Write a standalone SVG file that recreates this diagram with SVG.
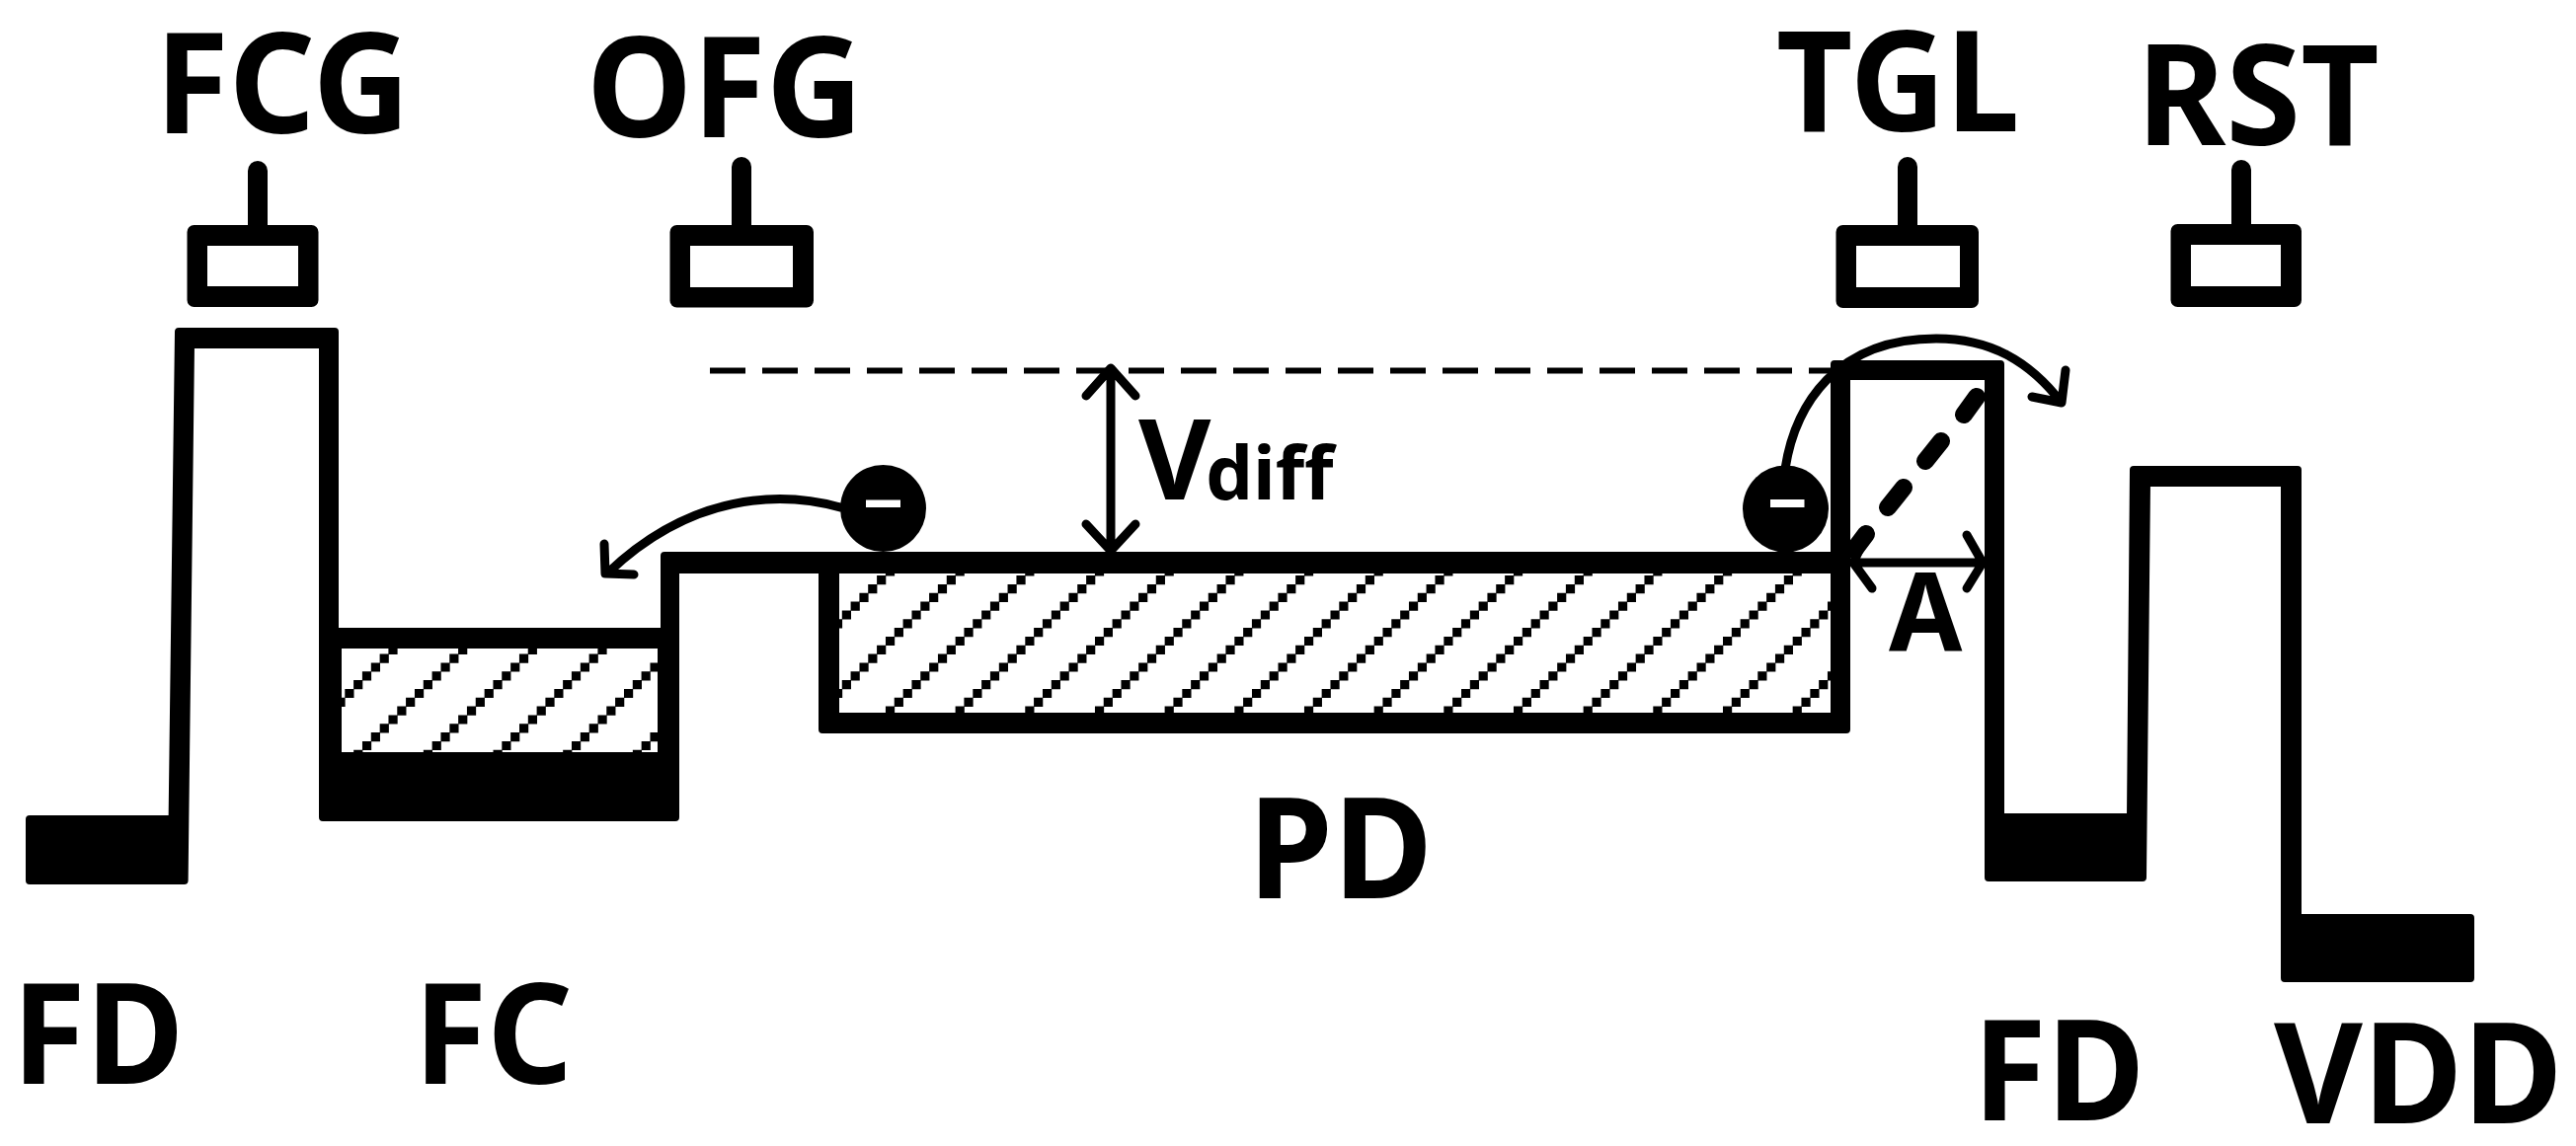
<svg xmlns="http://www.w3.org/2000/svg" width="2609" height="1161" viewBox="0 0 2609 1161">
<style>
text{font-family:"Noto Sans","Open Sans","Liberation Sans",sans-serif;font-weight:700;fill:#000}
.l{font-size:142px}
.band{fill:#000;stroke:#000;stroke-width:8;stroke-linejoin:round}
.stem{stroke:#000;stroke-width:20;stroke-linecap:round}
.hole{fill:#fff}
.thin{fill:none;stroke:#000;stroke-width:9;stroke-linecap:round;stroke-linejoin:round}
.dash{fill:none;stroke:#000;stroke-width:6;stroke-dasharray:36 17}
.thick{fill:none;stroke:#000;stroke-width:18;stroke-linecap:round}
</style>
<defs>
<path id="d" d="M-106 106h9.200v9.200h-9.200zM-97.100 97.100h9.200v9.200h-9.200zM-88.300 88.300h9.200v9.200h-9.200zM-79.500 79.500h9.200v9.200h-9.200zM-70.600 70.600h9.200v9.200h-9.200zM-61.800 61.800h9.200v9.200h-9.200zM-53 53h9.200v9.200h-9.200zM-44.200 44.200h9.200v9.200h-9.200zM-35.300 35.300h9.200v9.200h-9.200zM-26.500 26.500h9.200v9.200h-9.200zM-17.700 17.700h9.200v9.200h-9.200zM-8.800 8.800h9.200v9.200h-9.200zM0 0h9.200v9.200h-9.200zM8.800 -8.800h9.200v9.200h-9.200zM17.700 -17.700h9.200v9.200h-9.200zM26.500 -26.500h9.200v9.200h-9.200zM35.300 -35.300h9.200v9.200h-9.200zM44.200 -44.200h9.200v9.200h-9.200zM53 -53h9.200v9.200h-9.200zM61.800 -61.800h9.200v9.200h-9.200zM70.600 -70.600h9.200v9.200h-9.200zM79.500 -79.500h9.200v9.200h-9.200zM88.300 -88.300h9.200v9.200h-9.200z"/>
<clipPath id="fc"><rect x="346" y="657" width="320" height="105"/></clipPath>
<clipPath id="pd"><rect x="850" y="581" width="1004" height="141"/></clipPath>
</defs>
<rect width="2609" height="1161" fill="#fff"/>
<g id="band">
<path class="band" d="M30 830H174.6L181 336H339V640H673V563H1858V369H2026V828H2158L2161 476H2327V930H2502V991H2314V489H2174L2170 889H2014V381H1870V739H833V577H684V828H327V349H193L186.6 892H30Z"/>
<rect class="hole" x="346" y="657" width="320" height="105"/>
<rect class="hole" x="850" y="581" width="1004" height="141"/>
<g clip-path="url(#fc)">
<use href="#d" x="384.600" y="662.600"/><use href="#d" x="455.270" y="662.600"/><use href="#d" x="525.940" y="662.600"/><use href="#d" x="596.610" y="662.600"/><use href="#d" x="667.280" y="662.600"/><use href="#d" x="737.950" y="662.600"/>
</g>
<g clip-path="url(#pd)">
<use href="#d" x="808.600" y="662.600"/><use href="#d" x="879.270" y="662.600"/><use href="#d" x="949.940" y="662.600"/><use href="#d" x="1020.610" y="662.600"/><use href="#d" x="1091.280" y="662.600"/><use href="#d" x="1161.950" y="662.600"/><use href="#d" x="1232.620" y="662.600"/><use href="#d" x="1303.290" y="662.600"/><use href="#d" x="1373.960" y="662.600"/><use href="#d" x="1444.630" y="662.600"/><use href="#d" x="1515.300" y="662.600"/><use href="#d" x="1585.970" y="662.600"/><use href="#d" x="1656.640" y="662.600"/><use href="#d" x="1727.310" y="662.600"/><use href="#d" x="1797.980" y="662.600"/><use href="#d" x="1868.650" y="662.600"/><use href="#d" x="1939.320" y="662.600"/>
</g>
</g>
<g id="gate-fcg">
<line class="stem" x1="261" y1="173" x2="261" y2="235"/>
<rect x="189.5" y="228" width="133" height="83" rx="7"/><rect class="hole" x="210" y="249" width="92" height="41"/>
<text class="l" transform="translate(157 135) scale(.96 1)">FCG</text>
</g>
<g id="gate-ofg">
<line class="stem" x1="751" y1="169" x2="751" y2="235"/>
<rect x="678.5" y="228" width="145.5" height="83.500" rx="7"/><rect class="hole" x="699" y="249" width="104" height="42"/>
<text class="l" transform="translate(594 139) scale(.955 1)">OFG</text>
</g>
<g id="gate-tgl">
<line class="stem" x1="1932" y1="169" x2="1932" y2="235"/>
<rect x="1859.500" y="228" width="144.500" height="84" rx="7"/><rect class="hole" x="1880" y="249" width="105" height="42"/>
<text class="l" transform="translate(1799 133) scale(.943 1)">TGL</text>
</g>
<g id="gate-rst">
<line class="stem" x1="2270" y1="172" x2="2270" y2="235"/>
<rect x="2198.500" y="227" width="132.500" height="84" rx="7"/><rect class="hole" x="2219" y="248" width="91" height="42"/>
<text class="l" transform="translate(2164 147) scale(.97 1)">RST</text>
</g>
<g id="labels">
<text class="l" transform="translate(12 1098) scale(.959 1)">FD</text>
<text class="l" transform="translate(419 1098) scale(.953 1)">FC</text>
<text class="l" transform="translate(1264 910) scale(.974 1)">PD</text>
<text class="l" transform="translate(1998 1135) scale(.959 1)">FD</text>
<text class="l" transform="translate(2303 1138) scale(.975 1)">VDD</text>
<text font-size="112" transform="translate(1913 660) scale(.96 1)">A</text>
<text x="1153" y="506" font-size="113">V<tspan x="1221" font-size="76">diff</tspan></text>
</g>
<g id="connectors">
<line class="dash" x1="719" y1="375.500" x2="1856" y2="375.500"/>
<path class="thin" d="M1125 375V556M1100 401L1125 373L1150 401M1100 531L1125 558L1150 531"/>
<path class="thin" d="M1878 570H2006M1891 541L1877 570L1896 596M1992 542L2008 570L1992 596"/>
<path class="thin" d="M851 514C790 497 700 500 616 580M612 551L613 581L642 582"/>
<path class="thin" d="M1808 475C1818 410 1860 343 1961 343C2015 343 2055 365 2088 408M2092 375L2088 408L2058 402"/>
<path class="thick" d="M2002 402L1989 420M1966 447L1950 467M1928 494L1912 514M1890 541L1878 557"/>
</g>
<g id="electron-left">
<ellipse cx="894.500" cy="515" rx="43.500" ry="44"/><rect class="hole" x="877" y="506.500" width="35" height="7.500"/>
</g>
<g id="electron-right">
<ellipse cx="1808.500" cy="515.500" rx="43.500" ry="44"/><rect class="hole" x="1793" y="506" width="34.500" height="8"/>
</g>
</svg>
